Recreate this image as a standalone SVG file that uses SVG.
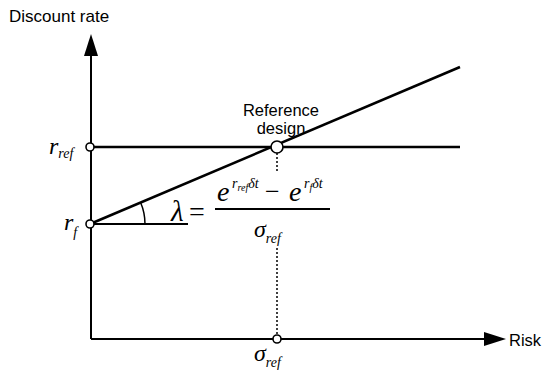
<svg xmlns="http://www.w3.org/2000/svg" width="545" height="373" viewBox="0 0 545 373">
<style>
.ax{stroke:#000;stroke-width:2;fill:none}
.ln{stroke:#000;stroke-width:2.6;fill:none}
.dot{fill:#fff;stroke:#000;stroke-width:1.6}
.sans{font-family:"Liberation Sans",Arial,sans-serif;fill:#000;font-size:16.5px}
.m{font-family:"Liberation Serif","Times New Roman",serif;font-style:italic;fill:#000}
</style>
<rect width="545" height="373" fill="#fff"/>
<g id="connectors">
<line class="ax" x1="91" y1="339" x2="91" y2="50"/>
<path d="M84,56 L91,34 L98,56 Z" fill="#000"/>
<line class="ax" x1="91" y1="339" x2="490" y2="339"/>
<path d="M484,332 L506,339 L484,346 Z" fill="#000"/>
<line class="ln" x1="90" y1="147" x2="460" y2="147"/>
<line class="ln" x1="90" y1="224" x2="460" y2="67"/>
<line class="ax" x1="90" y1="224" x2="188" y2="224"/>
<path class="ax" d="M145,224 A55,55 0 0 0 140.6,202.5" style="stroke-width:1.5"/>
<line x1="277" y1="153" x2="277" y2="172" stroke="#000" stroke-width="1.5" stroke-dasharray="2,2"/>
<line x1="277" y1="248" x2="277" y2="335" stroke="#000" stroke-width="1.5" stroke-dasharray="2,2"/>
</g>
<g id="axis-labels">
<text class="sans" x="9" y="22" style="font-size:17px">Discount rate</text>
<text class="sans" x="509" y="346">Risk</text>
</g>
<g id="rref-node">
<circle class="dot" cx="90" cy="147" r="4"/>
<text class="m" x="49" y="154" font-size="24">r<tspan font-size="14" dy="4">ref</tspan></text>
</g>
<g id="rf-node">
<circle class="dot" cx="90" cy="224" r="4"/>
<text class="m" x="64" y="230" font-size="24">r<tspan font-size="14" dy="7">f</tspan></text>
</g>
<g id="reference-design">
<circle class="dot" cx="277" cy="147" r="6"/>
<text class="sans" x="281" y="116" text-anchor="middle">Reference</text>
<text class="sans" x="281" y="134" text-anchor="middle">design</text>
</g>
<g id="sigma-node">
<circle class="dot" cx="277" cy="339" r="4"/>
<text class="m" x="254" y="361" font-size="24">σ<tspan font-size="14" dy="6">ref</tspan></text>
</g>
<g id="formula">
<text class="m" x="171" y="221" font-size="29">λ</text>
<text x="189" y="221" font-size="28" font-family="Liberation Serif,serif">=</text>
<line x1="215" y1="209" x2="330" y2="209" stroke="#000" stroke-width="1.8"/>
<text class="m" x="217" y="201" font-size="28">e</text>
<text class="m" x="232" y="188" font-size="14">r<tspan font-size="10" dy="3">ref</tspan><tspan dy="-3">δt</tspan></text>
<text x="265" y="200" font-size="26" font-family="Liberation Serif,serif">−</text>
<text class="m" x="289" y="201" font-size="28">e</text>
<text class="m" x="304" y="188" font-size="14">r<tspan font-size="10" dy="3">f</tspan><tspan dy="-3">δt</tspan></text>
<text class="m" x="254" y="237" font-size="24">σ<tspan font-size="14" dy="6">ref</tspan></text>
</g>
</svg>
